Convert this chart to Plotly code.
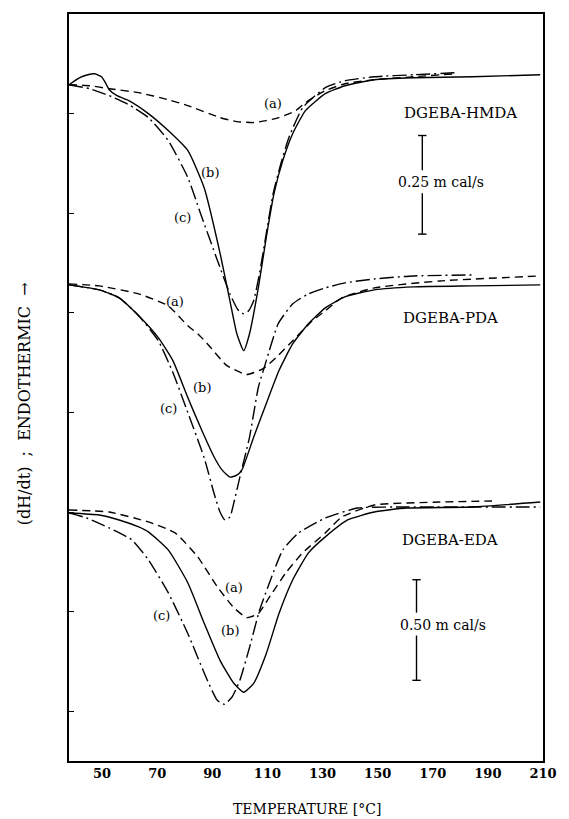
import plotly.graph_objects as go

# ---------------- data (temperature in °C, signal in chart divisions) ----------------
# DGEBA-HMDA
hmda_a_T = [38.0, 45.5, 52.6, 63.3, 74.0, 81.1, 92.8, 98.9, 105.0, 109.6, 114.2, 120.3, 123.8, 131.0, 138.1, 148.8, 163.0, 178.3]
hmda_a_y = [6.79, 6.78, 6.75, 6.71, 6.64, 6.58, 6.46, 6.42, 6.41, 6.43, 6.46, 6.53, 6.61, 6.73, 6.80, 6.84, 6.87, 6.90]
hmda_b_T = [38.0, 41.9, 44.8, 47.3, 49.8, 51.2, 52.6, 55.4, 59.7, 66.8, 74.0, 81.1, 87.1, 92.8, 96.4, 98.9, 101.4,
            103.5, 106.7, 109.6, 112.4, 115.6, 119.2, 123.8, 131.0, 138.1, 148.8, 163.0, 184.4, 209.0]
hmda_b_y = [6.79, 6.86, 6.89, 6.90, 6.87, 6.81, 6.74, 6.68, 6.63, 6.50, 6.33, 6.13, 5.75, 5.10, 4.62, 4.29, 4.12,
            4.29, 4.75, 5.26, 5.70, 6.03, 6.30, 6.53, 6.70, 6.78, 6.84, 6.86, 6.87, 6.89]
hmda_c_T = [38.0, 45.5, 52.6, 59.7, 66.8, 74.0, 81.1, 85.7, 91.8, 96.4, 99.3, 101.4, 103.2, 105.0, 107.1, 109.6,
            112.1, 114.9, 117.8, 122.8, 131.0, 138.1, 148.8, 163.0, 178.3]
hmda_c_y = [6.79, 6.75, 6.68, 6.59, 6.46, 6.23, 5.86, 5.50, 5.03, 4.69, 4.53, 4.49, 4.52, 4.62, 4.89, 5.30,
            5.70, 6.00, 6.26, 6.56, 6.76, 6.83, 6.87, 6.89, 6.91]

# DGEBA-PDA
pda_a_T = [38.0, 49.0, 63.3, 74.0, 81.1, 84.7, 88.2, 95.3, 102.5, 108.5, 113.1, 119.2, 126.3, 131.0, 137.0, 148.8, 172.6, 209.0]
pda_a_y = [4.79, 4.77, 4.69, 4.57, 4.37, 4.29, 4.19, 3.97, 3.88, 3.94, 4.05, 4.22, 4.42, 4.52, 4.65, 4.75, 4.82, 4.87]
pda_b_T = [38.0, 49.0, 56.2, 63.3, 70.4, 75.7, 81.1, 85.7, 90.7, 93.6, 96.4, 98.9, 100.7, 105.0, 109.6, 114.2,
           119.2, 124.9, 131.0, 138.1, 148.8, 163.0, 184.4, 209.0]
pda_b_y = [4.78, 4.73, 4.65, 4.47, 4.25, 4.02, 3.65, 3.35, 3.05, 2.92, 2.85, 2.87, 2.92, 3.25, 3.59, 3.92,
           4.19, 4.39, 4.55, 4.66, 4.73, 4.76, 4.77, 4.78]
pda_c_T = [38.0, 49.0, 56.2, 63.3, 70.4, 75.7, 81.1, 87.1, 90.7, 92.8, 94.6, 96.4, 97.8, 100.0, 103.5, 106.7,
           109.6, 113.9, 119.2, 124.9, 131.0, 138.1, 148.8, 163.0, 185.4]
pda_c_y = [4.78, 4.73, 4.65, 4.47, 4.22, 3.90, 3.50, 3.04, 2.68, 2.50, 2.42, 2.45, 2.59, 2.85, 3.25, 3.75,
           4.02, 4.39, 4.59, 4.69, 4.75, 4.80, 4.84, 4.87, 4.88]

# DGEBA-EDA
eda_a_T = [38.0, 52.6, 66.8, 76.5, 84.7, 91.8, 97.8, 102.5, 106.7, 110.6, 116.7, 122.8, 131.0, 137.0, 148.8, 172.6, 191.5]
eda_a_y = [2.52, 2.50, 2.40, 2.29, 2.05, 1.75, 1.54, 1.44, 1.48, 1.64, 1.89, 2.09, 2.29, 2.45, 2.57, 2.60, 2.61]
eda_b_T = [38.0, 49.0, 56.2, 63.3, 66.8, 74.0, 81.1, 87.1, 92.8, 97.8, 101.4, 105.0, 109.6, 114.2, 119.2, 124.9,
           131.0, 139.1, 148.8, 160.5, 184.4, 209.0]
eda_b_y = [2.49, 2.47, 2.42, 2.35, 2.30, 2.12, 1.79, 1.38, 1.01, 0.78, 0.69, 0.78, 1.08, 1.48, 1.82, 2.09,
           2.25, 2.42, 2.50, 2.54, 2.55, 2.60]
eda_c_T = [38.0, 44.4, 52.6, 60.8, 66.8, 74.0, 81.1, 88.2, 91.8, 94.3, 97.1, 100.0, 103.5, 107.1, 112.1, 115.6,
           121.3, 131.0, 142.7, 160.5, 209.0]
eda_c_y = [2.49, 2.44, 2.34, 2.22, 2.02, 1.69, 1.28, 0.81, 0.61, 0.57, 0.64, 0.81, 1.14, 1.51, 1.89, 2.12,
           2.29, 2.44, 2.54, 2.55, 2.55]

# curve labels
curve_labels = ["(a)", "(b)", "(c)", "(a)", "(b)", "(c)", "(a)", "(b)", "(c)"]
curve_label_T = [112.1, 89.3, 79.3, 76.5, 86.4, 74.0, 97.8, 96.4, 71.5]
curve_label_y = [6.60, 5.91, 5.46, 4.61, 3.75, 3.54, 1.74, 1.31, 1.46]

# system names
system_names = ["DGEBA-HMDA", "DGEBA-PDA", "DGEBA-EDA"]
system_T = [180.1, 176.5, 176.2]
system_y = [6.51, 4.45, 2.22]

# scale bars
scale_texts = ["0.25 m cal/s", "0.50 m cal/s"]
scale_bar_T = [166.2, 164.1]
scale_bar_top = [6.28, 1.82]
scale_bar_bottom = [5.29, 0.81]
scale_gap_top = [5.93, 1.49]
scale_gap_bottom = [5.70, 1.26]
scale_text_T = [173.0, 173.7]
scale_text_y = [5.81, 1.37]

x_ticks = [50, 70, 90, 110, 130, 150, 170, 190, 210]
y_ticks = [0.5, 1.5, 2.5, 3.5, 4.5, 5.5, 6.5]

# ---------------- figure ----------------
FONT = "DejaVu Serif"
styles = {"a": "8px,5px", "b": "solid", "c": "14px,4px,2px,4px"}

fig = go.Figure()
curves = [
    (hmda_a_T, hmda_a_y, "a"), (hmda_b_T, hmda_b_y, "b"), (hmda_c_T, hmda_c_y, "c"),
    (pda_a_T, pda_a_y, "a"), (pda_b_T, pda_b_y, "b"), (pda_c_T, pda_c_y, "c"),
    (eda_a_T, eda_a_y, "a"), (eda_b_T, eda_b_y, "b"), (eda_c_T, eda_c_y, "c"),
]
for T, y, k in curves:
    fig.add_trace(go.Scatter(x=T, y=y, mode="lines",
                             line=dict(color="black", width=1.4, dash=styles[k], shape="spline", smoothing=0.5),
                             showlegend=False, hoverinfo="skip"))

# scale bars (two segments each, with end caps)
for i in range(len(scale_texts)):
    fig.add_trace(go.Scatter(x=[scale_bar_T[i], scale_bar_T[i]], y=[scale_bar_top[i], scale_gap_top[i]],
                             mode="lines", line=dict(color="black", width=1.4), showlegend=False, hoverinfo="skip"))
    fig.add_trace(go.Scatter(x=[scale_bar_T[i], scale_bar_T[i]], y=[scale_gap_bottom[i], scale_bar_bottom[i]],
                             mode="lines", line=dict(color="black", width=1.4), showlegend=False, hoverinfo="skip"))
    fig.add_trace(go.Scatter(x=[scale_bar_T[i], scale_bar_T[i]], y=[scale_bar_top[i], scale_bar_bottom[i]],
                             mode="markers", marker=dict(symbol="line-ew", size=6, color="black",
                                                         line=dict(color="black", width=1.4)),
                             showlegend=False, hoverinfo="skip"))

annotations = []
for t, xx, yy in zip(curve_labels, curve_label_T, curve_label_y):
    annotations.append(dict(x=xx, y=yy, xref="x", yref="y", text=t, showarrow=False,
                            font=dict(family=FONT, size=13, color="black")))
for t, xx, yy in zip(system_names, system_T, system_y):
    annotations.append(dict(x=xx, y=yy, xref="x", yref="y", text=t, showarrow=False,
                            font=dict(family=FONT, size=15, color="black")))
for t, xx, yy in zip(scale_texts, scale_text_T, scale_text_y):
    annotations.append(dict(x=xx, y=yy, xref="x", yref="y", text=t, showarrow=False,
                            font=dict(family=FONT, size=14, color="black")))

annotations.append(dict(x=0.502, y=-0.064, xref="paper", yref="paper", text="TEMPERATURE [°C]",
                        showarrow=False, yanchor="middle",
                        font=dict(family=FONT, size=14, color="black")))
annotations.append(dict(x=-0.092, y=0.478, xref="paper", yref="paper",
                        text="(dH/dt)\u00a0\u00a0;\u00a0\u00a0ENDOTHERMIC\u00a0\u00a0→", textangle=-90,
                        showarrow=False, xanchor="center", yanchor="middle",
                        font=dict(family=FONT, size=16, color="black")))

fig.update_layout(
    width=569, height=819,
    margin=dict(l=69, r=19, t=13, b=58),
    paper_bgcolor="white", plot_bgcolor="white",
    annotations=annotations,
    xaxis=dict(range=[38, 210], tickvals=x_ticks, ticktext=[str(v) for v in x_ticks],
               showgrid=False, zeroline=False, showline=True, linecolor="black", linewidth=1.6,
               mirror=True, ticks="", tickfont=dict(family=FONT, size=13, color="black", weight="bold")),
    yaxis=dict(range=[0, 7.5], tickvals=y_ticks, showticklabels=False,
               showgrid=False, zeroline=False, showline=True, linecolor="black", linewidth=1.6,
               mirror=True, ticks="inside", ticklen=5, tickcolor="black", tickwidth=1.3),
)

fig.write_html("out.html")
